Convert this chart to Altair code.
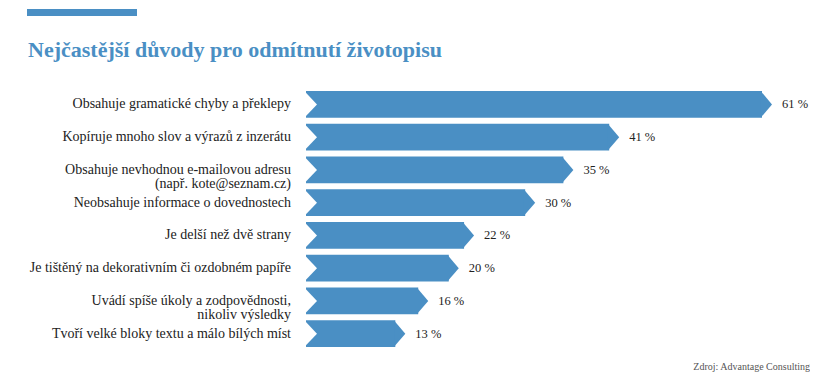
import altair as alt
import pandas as pd

categories = [
    "Obsahuje gramatické chyby a překlepy",
    "Kopíruje mnoho slov a výrazů z inzerátu",
    "Obsahuje nevhodnou e-mailovou adresu\n(např. kote@seznam.cz)",
    "Neobsahuje informace o dovednostech",
    "Je delší než dvě strany",
    "Je tištěný na dekorativním či ozdobném papíře",
    "Uvádí spíše úkoly a zodpovědnosti,\nnikoliv výsledky",
    "Tvoří velké bloky textu a málo bílých míst",
]
values = [61, 41, 35, 30, 22, 20, 16, 13]
value_labels = [f"{v} %" for v in values]

title_text = "Nejčastější důvody pro odmítnutí životopisu"
source_text = "Zdroj: Advantage Consulting"

BLUE = "#4a8fc4"
TEXT = "#222222"
SERIF = "Liberation Serif"

df = pd.DataFrame({"cat": categories, "value": values, "label": value_labels})

xs = alt.Scale(domain=[0, 61], nice=False, zero=True)
ys = alt.Scale(domain=categories, paddingInner=0.19, paddingOuter=0.095)


def X(f):
    return alt.X(f, scale=xs, axis=None)


Y = alt.Y("cat:N", scale=ys, axis=None, sort=categories)

base = alt.Chart(df)

bars = base.mark_bar(color=BLUE, xOffset=-10, cornerRadius=0).encode(
    x=X("value:Q"), x2=alt.datum(0), y=Y
)
tips = base.mark_point(
    shape="M-0.85,-1L0,0L-0.85,1Z", filled=True, size=702, opacity=1,
    color=BLUE, strokeWidth=0
).encode(x=X("value:Q"), y=Y)
notch = base.transform_calculate(zero="0").mark_point(
    shape="M-0.2,-1.08L0.83,0L-0.2,1.08Z", filled=True, size=702, opacity=1,
    color="white", strokeWidth=0
).encode(x=X("zero:Q"), y=Y)

cat_labels = base.transform_calculate(zero="0").mark_text(
    align="right", baseline="middle", dx=-15, font=SERIF, fontSize=14,
    color=TEXT, lineBreak="\n", lineHeight=14.5
).encode(x=X("zero:Q"), y=Y, text="cat:N")

val_labels = base.mark_text(
    align="left", baseline="middle", dx=10, font=SERIF, fontSize=12.5,
    color=TEXT
).encode(x=X("value:Q"), y=Y, text="label:N")

deco = alt.Chart(pd.DataFrame({"a": [0]})).mark_rect(color=BLUE).encode(
    x=alt.value(-279), x2=alt.value(-169), y=alt.value(-79), y2=alt.value(-72)
)
title = alt.Chart(pd.DataFrame({"t": [title_text]})).mark_text(
    align="left", baseline="alphabetic", font=SERIF, fontSize=22,
    fontWeight="bold", color=BLUE
).encode(x=alt.value(-278), y=alt.value(-31), text="t:N")
source = alt.Chart(pd.DataFrame({"t": [source_text]})).mark_text(
    align="right", baseline="middle", font=SERIF, fontSize=10,
    color="#555555"
).encode(x=alt.value(504), y=alt.value(279), text="t:N")

chart = alt.layer(bars, tips, notch, cat_labels, val_labels, deco, title, source).properties(
    width=466, height=262,
    autosize=alt.AutoSizeParams(type="none"),
    padding={"left": 298, "top": 80, "right": 38, "bottom": 24},
).configure_view(stroke=None)

chart.save("out.html", embed_options={"renderer": "svg", "actions": False})
